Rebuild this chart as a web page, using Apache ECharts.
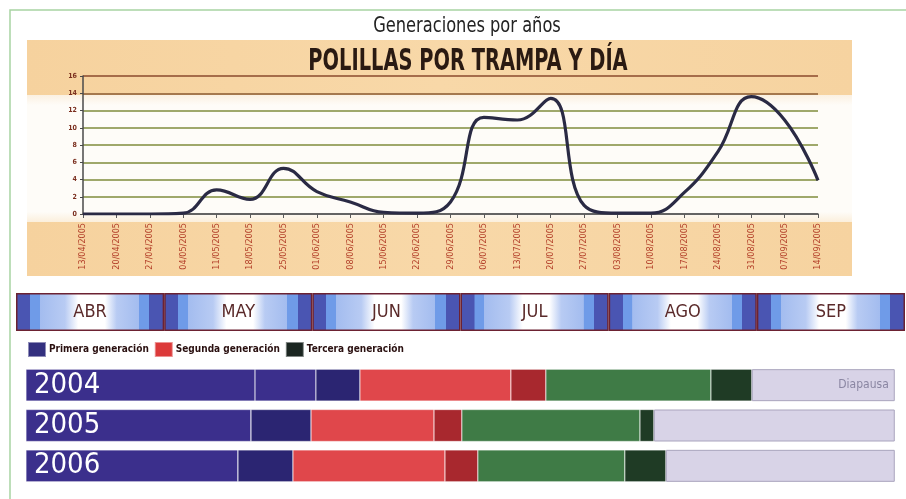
<!DOCTYPE html>
<html>
<head>
<meta charset="utf-8">
<title>Generaciones por años</title>
<script src="https://cdn.jsdelivr.net/npm/echarts@6/dist/echarts.min.js"></script>
<style>
    html, body { margin: 0; padding: 0; background: #ffffff; }
    #chart { width: 906px; height: 499px; }
</style>
</head>
<body>
<div id="chart"></div>
<script>
// fechas de muestreo (semanal)
const fechas = ['13/04/2005','20/04/2005','27/04/2005','04/05/2005','11/05/2005','18/05/2005','25/05/2005',
    '01/06/2005','08/06/2005','15/06/2005','22/06/2005','29/06/2005','06/07/2005','13/07/2005','20/07/2005',
    '27/07/2005','03/08/2005','10/08/2005','17/08/2005','24/08/2005','31/08/2005','07/09/2005','14/09/2005'];
// polillas por trampa y dia
const polillas = [0, 0, 0, 0.1, 2.8, 1.7, 5.3, 2.6, 1.4, 0.2, 0.1, 1.4, 11.2, 10.9, 13.4, 1.0, 0.1, 0.1, 2.5, 7.2, 13.6, 10.9, 3.9];

const meses = ['ABR', 'MAY', 'JUN', 'JUL', 'AGO', 'SEP'];
const anios = ['2004', '2005', '2006'];

// duracion de cada tramo en meses (desde el 1 de abril), por año
const inicio       = [0.067, 0.067, 0.067];
const primera      = [1.546, 1.519, 1.431];
const primeraB     = [0.411, 0, 0];
const primeraFin   = [0.297, 0.405, 0.371];
const segunda      = [1.019, 0.830, 1.026];
const segundaFin   = [0.236, 0.188, 0.222];
const tercera      = [1.114, 1.202, 0.992];
const terceraFin   = [0.276, 0.094, 0.277];
const diapausa     = [0.965, 1.626, 1.545];

const FONT = "'Liberation Sans Narrow', 'DejaVu Sans Condensed', 'Noto Sans', sans-serif";

let chart = echarts.init(document.getElementById('chart'));

// franjas azules de cada mes
let mesColor = new echarts.graphic.LinearGradient(0, 0, 1, 0, [
    {offset: 0, color: '#4a55b2'}, {offset: 0.094, color: '#4a55b2'},
    {offset: 0.095, color: '#6f9be8'}, {offset: 0.16, color: '#6f9be8'},
    {offset: 0.161, color: '#a3bcef'}, {offset: 0.33, color: '#b8cbf3'},
    {offset: 0.42, color: '#ffffff'}, {offset: 0.6, color: '#ffffff'},
    {offset: 0.68, color: '#b8cbf3'}, {offset: 0.83, color: '#a3bcef'},
    {offset: 0.831, color: '#6f9be8'}, {offset: 0.9, color: '#6f9be8'},
    {offset: 0.901, color: '#4a55b2'}, {offset: 1, color: '#4a55b2'}
]);

function tramo(name, data, color, extra) {
    return Object.assign({
        name: name,
        type: 'bar',
        stack: 'gen',
        xAxisIndex: 2,
        yAxisIndex: 2,
        barWidth: 32,
        data: data,
        itemStyle: {color: color, borderColor: 'rgba(255,255,255,0.45)', borderWidth: 0.6},
        silent: true
    }, extra || {});
}

let option = {
    backgroundColor: '#ffffff',
    animation: false,
    textStyle: {fontFamily: FONT},
    graphic: [
        // marco verde
        {type: 'rect', shape: {x: 10, y: 10, width: 920, height: 520},
            style: {fill: 'none', stroke: '#a8d3a2', lineWidth: 1.5}},
        // panel naranja
        {type: 'rect', shape: {x: 27, y: 40, width: 825, height: 236},
            style: {fill: new echarts.graphic.LinearGradient(0, 0, 1, 0, [
                {offset: 0, color: '#f6d29e'}, {offset: 0.5, color: '#f8d8a8'}, {offset: 1, color: '#f6d3a0'}])}},
        // fondo blanco del grafico
        {type: 'rect', shape: {x: 27, y: 95, width: 825, height: 127},
            style: {fill: new echarts.graphic.LinearGradient(0, 0, 0, 1, [
                {offset: 0, color: '#fbf1e2'}, {offset: 0.08, color: '#fefcf8'}, {offset: 0.92, color: '#fefcf8'}, {offset: 1, color: '#fbefdc'}])}},
        // titulos (texto estrecho)
        {type: 'text', x: 467, y: 27, scaleX: 0.86,
            style: {text: 'Generaciones por años', x: 0, y: 0, align: 'center', verticalAlign: 'middle',
                fontFamily: FONT, fontSize: 21, fill: '#222222'}},
        {type: 'text', x: 468, y: 62, scaleX: 0.72,
            style: {text: 'POLILLAS POR TRAMPA Y DÍA', x: 0, y: 0, align: 'center', verticalAlign: 'middle',
                fontFamily: FONT, fontSize: 30, fontWeight: 'bold', fill: '#2a1a12'}}
    ],
    legend: {
        left: 27,
        top: 341,
        padding: 0,
        itemWidth: 18,
        itemHeight: 15,
        itemGap: 5,
        icon: 'rect',
        selectedMode: false,
        textStyle: {fontFamily: FONT, fontSize: 10, fontWeight: 'bold', color: '#2a1010', padding: [0, 0, 0, -2]},
        data: [
            {name: 'Primera generación', itemStyle: {color: '#33307f'}},
            {name: 'Segunda generación', itemStyle: {color: '#dc3a3a'}},
            {name: 'Tercera generación', itemStyle: {color: '#1b2621'}}
        ]
    },
    grid: [
        {left: 83, right: 88, top: 76, bottom: 285},
        {left: 16, right: 1, top: 293, height: 38},
        {left: 16, right: 1, top: 365, bottom: 13}
    ],
    xAxis: [
        {
            gridIndex: 0,
            type: 'category',
            boundaryGap: false,
            data: fechas,
            axisLine: {lineStyle: {color: '#5a5a5a', width: 1.5}},
            axisTick: {show: true, length: 4, lineStyle: {color: '#5a5a5a'}},
            axisLabel: {rotate: 90, interval: 0, margin: 9, fontSize: 9, fontFamily: FONT, color: '#b3402a'}
        },
        {gridIndex: 1, type: 'category', data: meses, show: false},
        {gridIndex: 2, type: 'value', min: 0, max: 6, show: false}
    ],
    yAxis: [
        {
            gridIndex: 0,
            type: 'value',
            min: 0,
            max: 16,
            interval: 2,
            axisLine: {show: true, lineStyle: {color: '#4a4a4a', width: 1.5}},
            axisTick: {show: true, length: 3, lineStyle: {color: '#4a4a4a'}},
            axisLabel: {fontSize: 7, fontWeight: 'bold', margin: 6, color: '#7a2e1e'},
            splitLine: {lineStyle: {width: 1.5, color: ['#5a5a5a', '#7f8c3c', '#7f8c3c', '#7f8c3c', '#7f8c3c', '#7f8c3c', '#7f8c3c', '#8a5a32', '#8b4a2c']}}
        },
        {gridIndex: 1, type: 'value', min: 0, max: 1, show: false},
        {gridIndex: 2, type: 'category', data: anios, inverse: true, show: false}
    ],
    series: [
        {
            name: 'Polillas',
            type: 'line',
            xAxisIndex: 0,
            yAxisIndex: 0,
            data: polillas,
            smooth: 0.45,
            symbol: 'none',
            lineStyle: {color: '#2a2a44', width: 3.2},
            z: 5
        },
        {
            name: 'Meses',
            type: 'bar',
            xAxisIndex: 1,
            yAxisIndex: 1,
            data: meses.map(() => 1),
            barCategoryGap: '0%',
            itemStyle: {color: mesColor, borderColor: '#6c2232', borderWidth: 1.5},
            label: {show: true, position: 'inside', formatter: p => p.name, fontFamily: FONT, fontSize: 18, color: '#5a2a2a'},
            silent: true
        },
        tramo('inicio', inicio, 'rgba(0,0,0,0)', {itemStyle: {color: 'rgba(0,0,0,0)'}}),
        tramo('Primera generación', primera, '#3b2f8c', {
            label: {show: true, position: 'insideLeft', distance: 8, formatter: p => p.name,
                fontFamily: FONT, fontSize: 29, color: '#ffffff'}
        }),
        tramo('Primera generación', primeraB, '#3b2f8c'),
        tramo('Primera generación final', primeraFin, '#2b2572'),
        tramo('Segunda generación', segunda, '#e0474b'),
        tramo('Segunda generación final', segundaFin, '#a8282e'),
        tramo('Tercera generación', tercera, '#3f7b46'),
        tramo('Tercera generación final', terceraFin, '#1f3b25'),
        tramo('Diapausa', diapausa, '#d8d3e7', {
            itemStyle: {color: '#d8d3e7', borderColor: '#a9a4bd', borderWidth: 1},
            label: {show: true, position: 'insideRight', distance: 6,
                formatter: p => p.dataIndex === 0 ? 'Diapausa' : '',
                fontFamily: FONT, fontSize: 12, color: '#8a86a2'}
        })
    ]
};
chart.setOption(option, true);
</script>
</body>
</html>
